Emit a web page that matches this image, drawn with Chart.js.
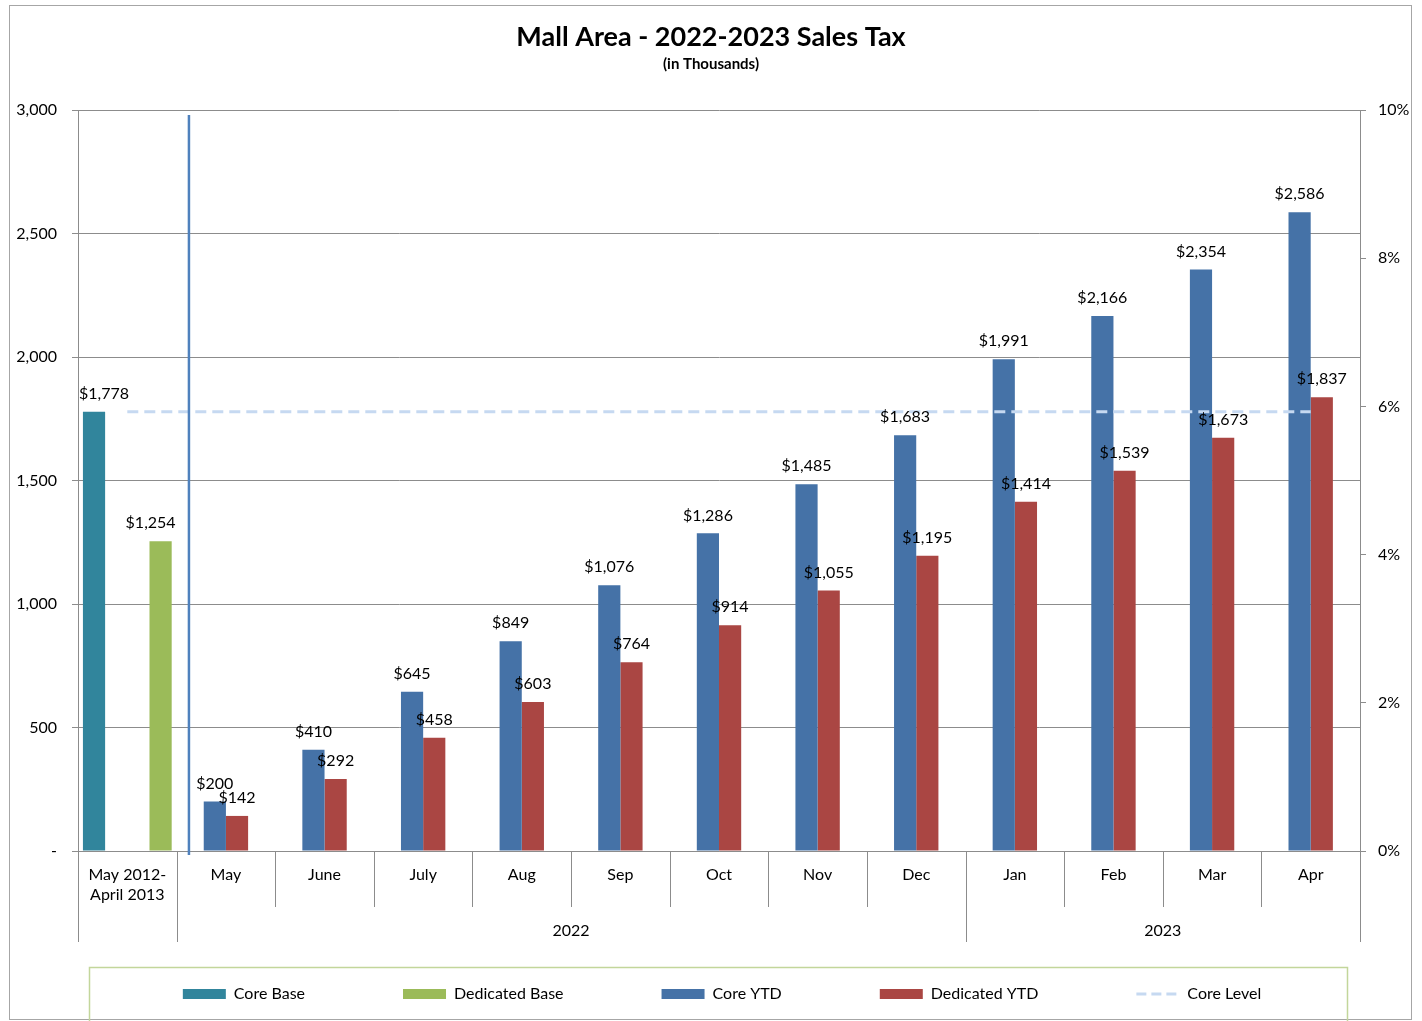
<!DOCTYPE html>
<html><head><meta charset="utf-8">
<script src="https://cdn.jsdelivr.net/npm/chart.js@4.4.1/dist/chart.umd.min.js"></script>
<style>html,body{margin:0;padding:0;background:#fff;}</style>
</head><body>
<canvas id="c" width="1422" height="1021" style="display:block;width:1422px;height:1021px"></canvas>
<script>
// ---- data ----
const categories = [['May 2012-','April 2013'],'May','June','July','Aug','Sep','Oct','Nov','Dec','Jan','Feb','Mar','Apr'];
const groupLabels = ['', '2022', '2023'];
const groupSizes = [1, 8, 4];
const coreBase = [1778, null, null, null, null, null, null, null, null, null, null, null, null];
const dedicatedBase = [1254, null, null, null, null, null, null, null, null, null, null, null, null];
const coreYTD = [null, 200, 410, 645, 849, 1076, 1286, 1485, 1683, 1991, 2166, 2354, 2586];
const dedicatedYTD = [null, 142, 292, 458, 603, 764, 914, 1055, 1195, 1414, 1539, 1673, 1837];
const coreLevel = [1778, 1778, 1778, 1778, 1778, 1778, 1778, 1778, 1778, 1778, 1778, 1778, 1778];
const leftAxis = {min: 0, max: 3000, step: 500};
const rightAxis = {min: 0, max: 10, step: 2};

const FONT = 'Lato, "Liberation Sans", sans-serif';
const GRID = '#8c8c8c';

const fmtMoney = v => '$' + v.toLocaleString('en-US');

const bgPlugin = {
  id: 'bg',
  beforeDraw(chart) {
    const ctx = chart.ctx;
    ctx.save();
    ctx.fillStyle = '#fff';
    ctx.fillRect(0, 0, chart.width, chart.height);
    ctx.strokeStyle = '#a6a6a6';
    ctx.lineWidth = 1;
    ctx.strokeRect(9.5, 5.5, 1402, 1014);
    ctx.restore();
  }
};

const labelPlugin = {
  id: 'barLabels',
  afterDatasetsDraw(chart) {
    const ctx = chart.ctx;
    ctx.save();
    ctx.font = '16px ' + FONT;
    ctx.fillStyle = '#000';
    ctx.textAlign = 'center';
    ctx.textBaseline = 'middle';
    chart.data.datasets.forEach((ds, i) => {
      if (ds.type === 'line') return;
      const meta = chart.getDatasetMeta(i);
      meta.data.forEach((el, j) => {
        const v = ds.data[j];
        if (v == null) return;
        ctx.fillText(fmtMoney(v), el.x + (ds.labelShift || 0), el.y - 18);
      });
    });
    ctx.restore();
  }
};

const decoPlugin = {
  id: 'deco',
  afterDraw(chart) {
    const ctx = chart.ctx;
    const xs = chart.scales.x;
    const area = chart.chartArea;
    const n = categories.length;
    const w = (xs.getPixelForValue(1) - xs.getPixelForValue(0));
    const edge = i => xs.getPixelForValue(0) - w / 2 + i * w;
    ctx.save();
    // separators under axis
    const groupEdges = new Set();
    let acc = 0;
    groupEdges.add(0);
    groupSizes.forEach(s => { acc += s; groupEdges.add(acc); });
    ctx.strokeStyle = GRID;
    ctx.lineWidth = 1;
    for (let i = 0; i <= n; i++) {
      const x = Math.round(edge(i)) + 0.5;
      const yEnd = groupEdges.has(i) ? area.bottom + 91 : area.bottom + 56;
      ctx.beginPath();
      ctx.moveTo(x, area.bottom);
      ctx.lineTo(x, yEnd);
      ctx.stroke();
    }
    // group labels
    ctx.font = '16px ' + FONT;
    ctx.fillStyle = '#000';
    ctx.textAlign = 'center';
    ctx.textBaseline = 'middle';
    acc = 0;
    groupSizes.forEach((s, gi) => {
      const x0 = edge(acc), x1 = edge(acc + s);
      if (groupLabels[gi]) ctx.fillText(groupLabels[gi], (x0 + x1) / 2, area.bottom + 80);
      acc += s;
    });
    // vertical separator line
    const vx = edge(1) + 0.125 * w;
    ctx.strokeStyle = '#4F81BD';
    ctx.lineWidth = 2.5;
    ctx.beginPath();
    ctx.moveTo(vx, area.top + 5);
    ctx.lineTo(vx, area.bottom + 4);
    ctx.stroke();

    // legend box
    ctx.strokeStyle = '#c3d69b';
    ctx.lineWidth = 1.5;
    ctx.strokeRect(89.5, 967.5, 1258, 60);

    // legend items
    ctx.font = '16px ' + FONT;
    ctx.textAlign = 'left';
    const sw = 43, gapT = 8, gap = 98, cy = 994;
    const items = chart.data.datasets.map(ds => ({ds, tw: ctx.measureText(ds.label).width}));
    const total = items.reduce((a, it) => a + sw + gapT + it.tw, 0) + gap * (items.length - 1);
    let x = 722 - total / 2;
    items.forEach(it => {
      const ds = it.ds;
      if (ds.type === 'line') {
        ctx.strokeStyle = ds.borderColor;
        ctx.lineWidth = 3;
        ctx.setLineDash([10, 5]);
        ctx.beginPath();
        ctx.moveTo(x, cy);
        ctx.lineTo(x + sw, cy);
        ctx.stroke();
        ctx.setLineDash([]);
      } else {
        ctx.fillStyle = ds.backgroundColor;
        ctx.fillRect(x, cy - 5, sw, 10);
      }
      ctx.fillStyle = '#000';
      ctx.fillText(ds.label, x + sw + gapT, cy);
      x += sw + gapT + it.tw + gap;
    });
    ctx.restore();
  }
};

new Chart(document.getElementById('c'), {
  data: {
    labels: categories,
    datasets: [
      {type: 'bar', label: 'Core Base', data: coreBase, backgroundColor: '#31859C', order: 1, labelShift: 10},
      {type: 'bar', label: 'Dedicated Base', data: dedicatedBase, backgroundColor: '#9BBB59', order: 4, labelShift: -10},
      {type: 'bar', label: 'Core YTD', data: coreYTD, backgroundColor: '#4572A7', order: 2},
      {type: 'bar', label: 'Dedicated YTD', data: dedicatedYTD, backgroundColor: '#AA4643', order: 3},
      {type: 'line', label: 'Core Level', data: coreLevel, borderColor: '#C6D9F1', borderWidth: 3,
       borderDash: [11, 6], pointRadius: 0, fill: false, order: 0, tension: 0}
    ]
  },
  options: {
    responsive: false,
    animation: false,
    devicePixelRatio: 1,
    layout: {padding: 0},
    datasets: {bar: {categoryPercentage: 0.9, barPercentage: 1.0}},
    plugins: {
      legend: {display: false},
      tooltip: {enabled: false},
      title: {display: true, text: 'Mall Area - 2022-2023 Sales Tax', color: '#000',
        font: {family: FONT, size: 27, weight: 'bold', lineHeight: 1.2}, padding: {top: 20.8, bottom: 0}},
      subtitle: {display: true, text: '(in Thousands)', color: '#000',
        font: {family: FONT, size: 15, weight: 'bold', lineHeight: 1.2}, padding: {top: 1.8, bottom: 37}}
    },
    scales: {
      x: {
        type: 'category', offset: true,
        grid: {display: false},
        border: {display: true, color: GRID},
        ticks: {color: '#000', font: {family: FONT, size: 16, lineHeight: 1.3}, padding: 5, maxRotation: 0, autoSkip: false},
        afterFit(s) { s.height = 170; }
      },
      y: {
        position: 'left', min: leftAxis.min, max: leftAxis.max,
        grid: {color: GRID, tickLength: 6},
        border: {color: GRID},
        ticks: {stepSize: leftAxis.step, color: '#000', font: {family: FONT, size: 16}, padding: 15,
          callback: v => v === 0 ? '-' : v.toLocaleString('en-US')},
        afterFit(s) { s.width = 78; }
      },
      y2: {
        position: 'right', min: rightAxis.min, max: rightAxis.max, display: true,
        grid: {drawOnChartArea: false, color: GRID, tickLength: 6},
        border: {color: GRID},
        ticks: {stepSize: rightAxis.step, color: '#000', font: {family: FONT, size: 16}, padding: 12,
          callback: v => v + '%'},
        afterFit(s) { s.width = 62; }
      }
    }
  },
  plugins: [bgPlugin, labelPlugin, decoPlugin]
});
</script>
</body></html>
